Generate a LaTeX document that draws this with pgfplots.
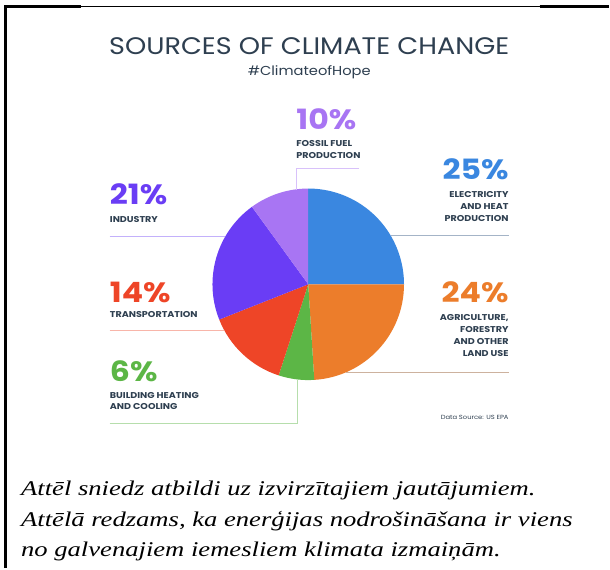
\documentclass[border=0pt]{standalone}
\usepackage{fontspec}
\setmainfont{Poppins}[FakeStretch=1.13]
\newfontfamily\tnr{Liberation Serif}[FakeStretch=1.27]
\usepackage{pgfplots}
\usepackage{pgfplotstable}
\pgfplotsset{compat=1.18}

\definecolor{cElec}{HTML}{3A87E0}
\definecolor{cAgri}{HTML}{EC7D2B}
\definecolor{cBuild}{HTML}{5CB646}
\definecolor{cTrans}{HTML}{EE4527}
\definecolor{cInd}{HTML}{6A3DF5}
\definecolor{cFoss}{HTML}{A875F3}
\definecolor{ink}{HTML}{2E3F50}

% share of emissions, clockwise from 12 o'clock
\pgfplotstableread{
share color
25 cElec
24 cAgri
6  cBuild
14 cTrans
21 cInd
10 cFoss
}\sources

\tikzset{
  pct/.style={inner sep=0, font=\fontsize{28}{28}\selectfont\bfseries},
  lab/.style={inner sep=0, text=ink, font=\fontsize{8.5}{12}\selectfont\bfseries},
}

\begin{document}
\begin{tikzpicture}
\begin{axis}[
  hide axis, scale only axis,
  width=610pt, height=569pt,
  xmin=0, xmax=610, ymin=0, ymax=569,
  y dir=reverse, clip=false,
]
\fill[white] (axis cs:0,0) rectangle (axis cs:610,569);

% pie wedges
\pgfplotsextra{
  \def\startang{90}
  \pgfplotsforeachungrouped \i in {0,...,5}{%
    \pgfplotstablegetelem{\i}{share}\of\sources \let\sh\pgfplotsretval
    \pgfplotstablegetelem{\i}{color}\of\sources \let\col\pgfplotsretval
    \pgfmathsetmacro\endang{\startang-3.6*\sh}%
    \fill[\col] (axis cs:309,285) -- ++(\startang:96pt)
      arc[start angle=\startang, end angle=\endang, radius=96pt] -- cycle;
    \let\startang\endang
  }
}

% frame
\draw[line width=3pt] (axis cs:5.5,569) -- (axis cs:5.5,6.5) -- (axis cs:81,6.5);
\draw[line width=1.3pt] (axis cs:81,6.5) -- (axis cs:541,6.5);
\draw[line width=3pt] (axis cs:541,6.5) -- (axis cs:610,6.5);

% leader lines
\draw[cFoss!45, line width=0.8pt] (axis cs:360,169) -- (axis cs:297,169) -- (axis cs:297,190);
\draw[cInd!40, line width=0.8pt] (axis cs:110,237) -- (axis cs:226,237);
\draw[cElec!35!gray!60, line width=0.8pt] (axis cs:392,236) -- (axis cs:510,236);
\draw[cTrans!40, line width=0.8pt] (axis cs:110,331) -- (axis cs:225,331);
\draw[cAgri!40!gray!60, line width=0.8pt] (axis cs:347,373) -- (axis cs:510,373);
\draw[cBuild!45, line width=0.8pt] (axis cs:110,424) -- (axis cs:298,424) -- (axis cs:298,380);

% titles
\node[anchor=base, inner sep=0, text=ink, font=\fontsize{24}{24}\selectfont]
  at (axis cs:310,55) {SOURCES OF CLIMATE CHANGE};
\node[anchor=base, inner sep=0, text=ink, font=\fontsize{13}{13}\selectfont]
  at (axis cs:310,76) {\#ClimateofHope};

% labels (base of a multi-line node = last line)
\node[pct, text=cFoss, anchor=base west] at (axis cs:297,130) {10\%};
\node[lab, anchor=base west, align=left] at (axis cs:297,159) {FOSSIL FUEL\\PRODUCTION};

\node[pct, text=cElec, anchor=base east] at (axis cs:510,180) {25\%};
\node[lab, anchor=base east, align=right] at (axis cs:510,222) {ELECTRICITY\\AND HEAT\\PRODUCTION};

\node[pct, text=cInd, anchor=base west] at (axis cs:110,205) {21\%};
\node[lab, anchor=base west] at (axis cs:110,223) {INDUSTRY};

\node[pct, text=cAgri, anchor=base east] at (axis cs:510,303) {24\%};
\node[lab, anchor=base east, align=right] at (axis cs:510,357) {AGRICULTURE,\\FORESTRY\\AND OTHER\\LAND USE};

\node[pct, text=cTrans, anchor=base west] at (axis cs:110,303) {14\%};
\node[lab, anchor=base west] at (axis cs:110,318) {TRANSPORTATION};

\node[pct, text=cBuild, anchor=base west] at (axis cs:110,382) {6\%};
\node[lab, anchor=base west, align=left] at (axis cs:110,411) {BUILDING HEATING\\AND COOLING};

\node[anchor=base east, inner sep=0, text=ink, font=\fontsize{6}{6}\selectfont]
  at (axis cs:510,421) {Data Source: US EPA};

% caption
\node[anchor=base west, inner sep=0, align=left, font=\tnr\itshape\fontsize{21}{30.5}\selectfont]
  at (axis cs:21,558)
  {Attēl sniedz atbildi uz izvirzītajiem jautājumiem.\\
   Attēlā redzams, ka enerģijas nodrošināšana ir viens\\
   no galvenajiem iemesliem klimata izmaiņām.};
\end{axis}
\end{tikzpicture}
\end{document}
